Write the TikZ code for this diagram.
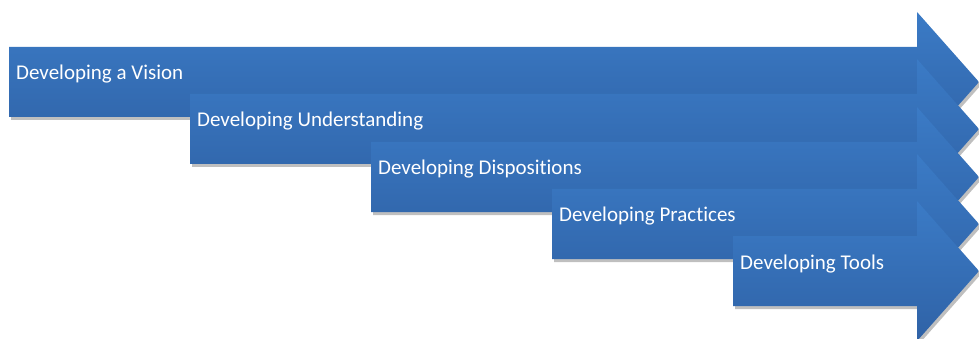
\documentclass[tikz,border=0pt]{standalone}
\usepackage{fontspec}
\setmainfont[Ligatures={NoCommon}]{Carlito}
\usetikzlibrary{shadows}
\definecolor{arrtop}{HTML}{3B7BC6}
\definecolor{arrbot}{HTML}{2F62A6}
\begin{document}
\begin{tikzpicture}[x=1pt,y=-1pt,
  arrowshape/.style={top color=arrtop, bottom color=arrbot, draw=none,
    drop shadow={shadow xshift=2pt, shadow yshift=-3pt, opacity=0.25, fill=black}},
  lbl/.style={text=white, font=\fontsize{21}{25}\selectfont, anchor=base west, inner sep=0pt}]
\useasboundingbox (0,0) rectangle (979,339);
\foreach \i/\x/\t/\txt in {1/9/47/{Developing a Vision},
                            2/190/94/{Developing Understanding},
                            3/371/142/{Developing Dispositions},
                            4/552/189/{Developing Practices},
                            5/733/236/{Developing Tools}}{
  \path[arrowshape] (\x,\t) -- (917,\t) -- (917,\t-35) -- (979,\t+35)
        -- (917,\t+105) -- (917,\t+70) -- (\x,\t+70) -- cycle;
  \node[lbl] (t\i) at (\x+7,\t+33) {\txt};
}
\end{tikzpicture}
\end{document}
